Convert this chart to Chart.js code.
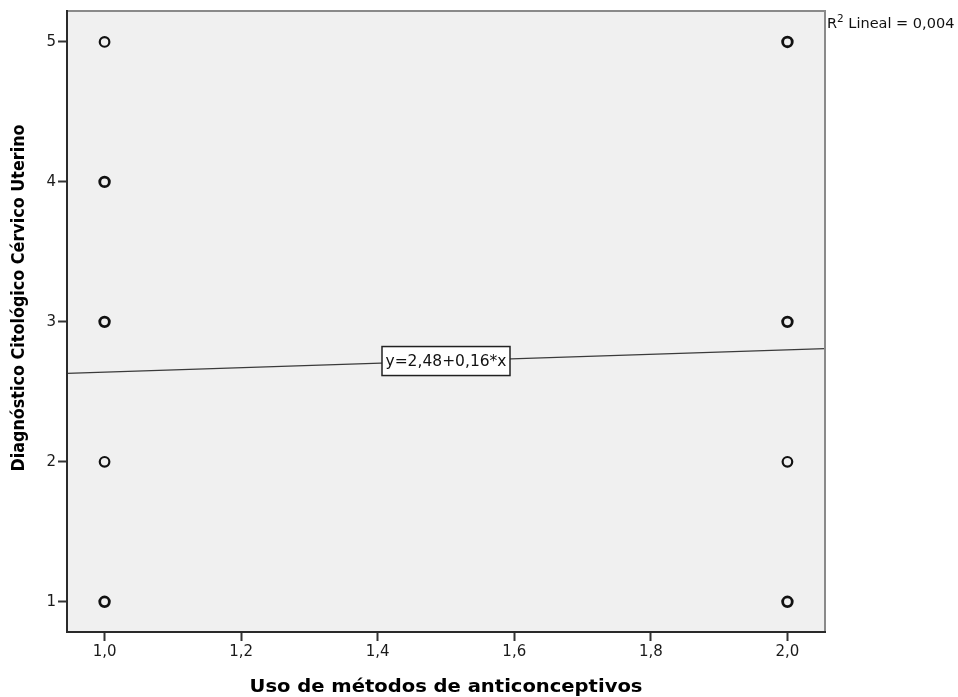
<!DOCTYPE html>
<html lang="es">
<head>
<meta charset="utf-8">
<title>Diagnóstico citológico y uso de métodos anticonceptivos</title>
<script src="https://cdn.jsdelivr.net/npm/chart.js@4.4.1/dist/chart.umd.min.js"></script>
<style>
  html, body { margin: 0; padding: 0; background: #fff; }
  #wrap { width: 958px; height: 697px; }
</style>
</head>
<body>
<div id="wrap"><canvas id="scatter"></canvas></div>
<script>
// casos: uso de métodos (1/2) contra diagnóstico (1-5)
const usoMetodo   = [1, 1, 1, 1, 1, 2, 2, 2, 2];
const diagnostico = [1, 2, 3, 4, 5, 1, 2, 3, 5];
const casos       = [2, 1, 2, 2, 1, 2, 1, 2, 2]; // los repetidos se dibujan más gruesos

// recta de ajuste
const intercepto = 2.48;
const pendiente = 0.16;
const r2 = 0.004;
const xEtiqueta = 1.5; // dónde va la caja con la ecuación

const ticksX = [1.0, 1.2, 1.4, 1.6, 1.8, 2.0];
const ticksY = [1, 2, 3, 4, 5];
const rangoX = [0.945, 2.055];
const rangoY = [0.784, 5.221];

const tituloX = 'Uso de métodos de anticonceptivos';
const tituloY = 'Diagnóstico Citológico Cérvico Uterino';

const coma = (v, d) => v.toFixed(d).replace('.', ',');
const FUENTE = '"DejaVu Sans", Verdana, sans-serif';

const puntos = usoMetodo.map((x, i) => ({ x: x, y: diagnostico[i], n: casos[i] }));
const recta = rangoX.map(x => ({ x: x, y: intercepto + pendiente * x }));

// fondo gris del área y marco
const marco = {
    id: 'marco',
    beforeDraw(chart) {
        const { ctx, chartArea: a } = chart;
        ctx.save();
        ctx.fillStyle = '#f0f0f0';
        ctx.fillRect(a.left, a.top, a.right - a.left, a.bottom - a.top);
        ctx.restore();
    },
    afterDatasetsDraw(chart) {
        const { ctx, chartArea: a } = chart;
        ctx.save();
        ctx.lineWidth = 2;
        ctx.strokeStyle = '#8a8a8a';
        ctx.beginPath();
        ctx.moveTo(a.left, a.top);
        ctx.lineTo(a.right, a.top);
        ctx.lineTo(a.right, a.bottom);
        ctx.stroke();
        ctx.strokeStyle = '#2a2a2a';
        ctx.beginPath();
        ctx.moveTo(a.left, a.top - 1);
        ctx.lineTo(a.left, a.bottom);
        ctx.lineTo(a.right + 1, a.bottom);
        ctx.stroke();
        ctx.restore();
    }
};

// ecuación, R² y títulos de los ejes
const textos = {
    id: 'textos',
    afterDraw(chart) {
        const { ctx, chartArea: a } = chart;
        const sx = chart.scales.x, sy = chart.scales.y;
        ctx.save();

        // caja con la ecuación sobre la recta
        const ecuacion = 'y=' + coma(intercepto, 2) + '+' + coma(pendiente, 2) + '*x';
        const px = sx.getPixelForValue(xEtiqueta);
        const py = sy.getPixelForValue(intercepto + pendiente * xEtiqueta);
        ctx.fillStyle = '#fff';
        ctx.fillRect(px - 64, py - 14.5, 128, 29);
        ctx.strokeStyle = '#222';
        ctx.lineWidth = 1.5;
        ctx.strokeRect(px - 64, py - 14.5, 128, 29);
        ctx.font = '15.5px ' + FUENTE;
        ctx.fillStyle = '#111';
        ctx.textAlign = 'center';
        ctx.textBaseline = 'middle';
        ctx.fillText(ecuacion, px, py + 1);

        // R² lineal a la derecha del área
        ctx.textAlign = 'left';
        ctx.textBaseline = 'alphabetic';
        let x = a.right + 2;
        const base = 28;
        ctx.font = '14.5px ' + FUENTE;
        ctx.fillText('R', x, base);
        x += ctx.measureText('R').width;
        ctx.font = '10.5px ' + FUENTE;
        ctx.fillText('2', x, base - 6);
        x += ctx.measureText('2').width;
        ctx.font = '14.5px ' + FUENTE;
        ctx.fillText(' Lineal = ' + coma(r2, 3), x, base);

        // títulos, un poco ensanchados
        ctx.fillStyle = '#000';
        ctx.textAlign = 'center';
        ctx.font = 'bold 17px ' + FUENTE;
        ctx.save();
        ctx.translate((a.left + a.right) / 2, 692);
        ctx.scale(1.15, 1);
        ctx.fillText(tituloX, 0, 0);
        ctx.restore();

        ctx.translate(24, 298);
        ctx.rotate(-Math.PI / 2);
        ctx.scale(1, 1.12);
        ctx.font = 'bold 16px ' + FUENTE;
        ctx.fillText(tituloY, 0, 0);
        ctx.restore();
    }
};

const ejeComun = {
    type: 'linear',
    border: { display: false },
    grid: {
        display: true,
        drawOnChartArea: false,
        drawTicks: true,
        tickLength: 9,
        tickWidth: 2,
        tickColor: '#333'
    }
};

const ctx = document.getElementById('scatter').getContext('2d');
const chart = new Chart(ctx, {
    type: 'scatter',
    data: {
        datasets: [
            {
                type: 'line',
                data: recta,
                borderColor: '#3a3a3a',
                borderWidth: 1.2,
                pointRadius: 0,
                fill: false
            },
            {
                data: puntos,
                pointStyle: 'circle',
                pointRadius: 4.8,
                pointBackgroundColor: 'rgba(0,0,0,0)',
                pointBorderColor: '#111',
                pointBorderWidth: c => (c.raw && c.raw.n > 1 ? 2.8 : 2.2)
            }
        ]
    },
    options: {
        responsive: true,
        maintainAspectRatio: false,
        animation: false,
        layout: { padding: { top: 10, right: 133, bottom: 0, left: 0 } },
        plugins: {
            legend: { display: false },
            tooltip: { enabled: false }
        },
        scales: {
            x: {
                ...ejeComun,
                min: rangoX[0],
                max: rangoX[1],
                afterBuildTicks: s => { s.ticks = ticksX.map(v => ({ value: v })); },
                afterFit: s => { s.height = 65; },
                ticks: {
                    padding: 2,
                    color: '#1a1a1a',
                    font: { family: FUENTE, size: 15 },
                    maxRotation: 0,
                    callback: v => coma(v, 1)
                }
            },
            y: {
                ...ejeComun,
                min: rangoY[0],
                max: rangoY[1],
                afterBuildTicks: s => { s.ticks = ticksY.map(v => ({ value: v })); },
                afterFit: s => { s.width = 67; },
                ticks: {
                    padding: 2,
                    color: '#1a1a1a',
                    font: { family: FUENTE, size: 15 },
                    callback: v => String(v)
                }
            }
        }
    },
    plugins: [marco, textos]
});
</script>
</body>
</html>
